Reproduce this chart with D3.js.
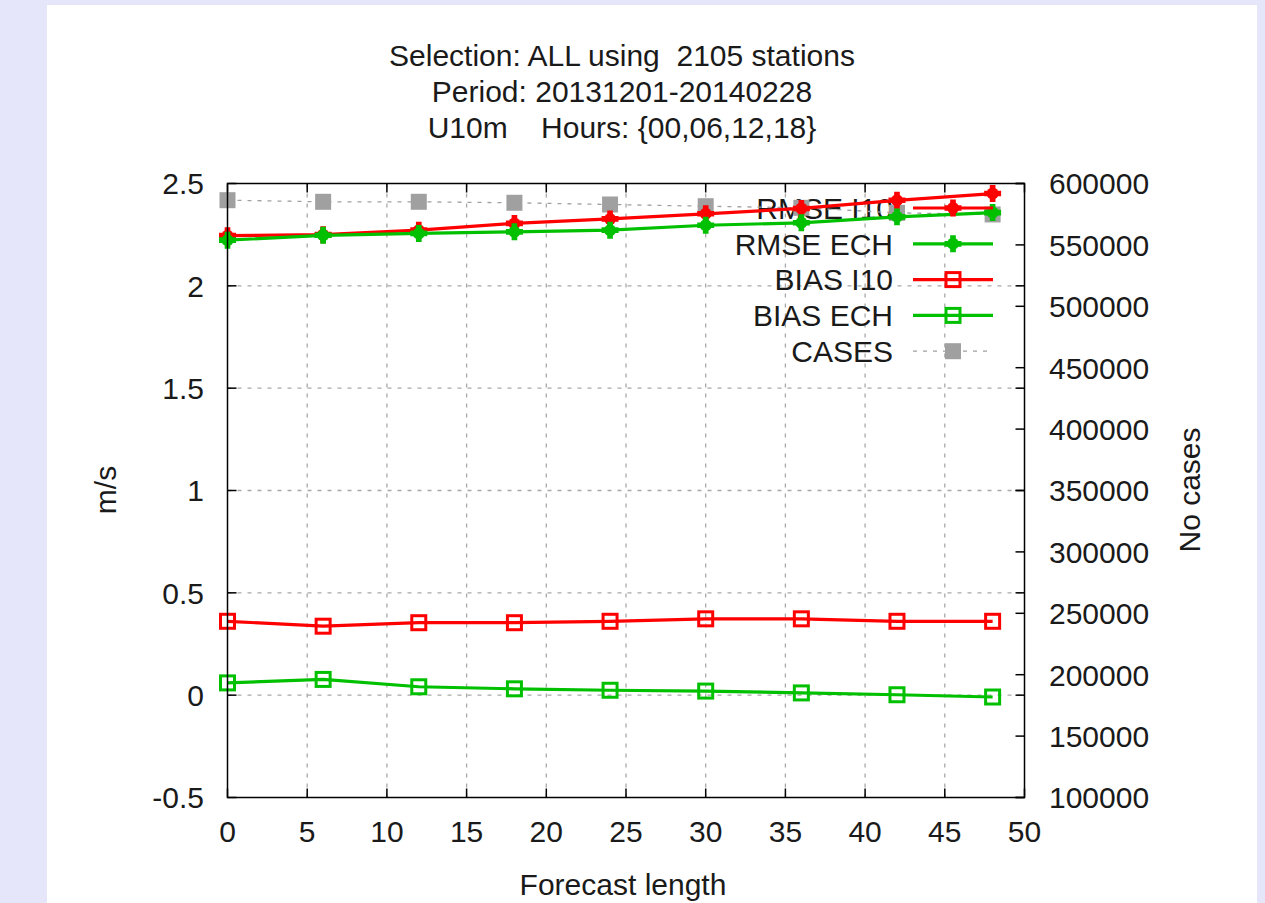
<!DOCTYPE html>
<html>
<head>
<meta charset="utf-8">
<script src="https://cdn.jsdelivr.net/npm/d3@7"></script>
<style>
  html, body { margin: 0; padding: 0; background: #e6e6fa; }
  svg { display: block; }
  text { font-family: "Liberation Sans", Arial, sans-serif; fill: #1a1a1a; }
</style>
</head>
<body>
<svg id="chart" width="1265" height="903"></svg>
<script>
// Forecast lengths (hours)
const hours = [0, 6, 12, 18, 24, 30, 36, 42, 48];

// Scores in m/s
const rmseI10 = [2.245, 2.25, 2.272, 2.305, 2.327, 2.352, 2.378, 2.418, 2.451];
const rmseECH = [2.223, 2.247, 2.256, 2.264, 2.272, 2.296, 2.308, 2.337, 2.358];
const biasI10 = [0.361, 0.337, 0.354, 0.354, 0.361, 0.373, 0.373, 0.361, 0.361];
const biasECH = [0.060, 0.077, 0.041, 0.031, 0.024, 0.020, 0.011, 0.002, -0.009];

// Number of cases (right axis)
const cases = [586400, 585100, 585100, 584300, 582900, 581500, 580200, 576100, 574800];

// Axis ticks
const xTicks = [0, 5, 10, 15, 20, 25, 30, 35, 40, 45, 50];
const yTicks = [-0.5, 0, 0.5, 1, 1.5, 2, 2.5];
const y2Ticks = [100000, 150000, 200000, 250000, 300000, 350000, 400000, 450000, 500000, 550000, 600000];

const titleLines = ["Selection: ALL using  2105 stations", "Period: 20131201-20140228", "U10m    Hours: {00,06,12,18}"];

const svg = d3.select("#chart");
const W = 1265, H = 903;
const FS = 30;

// white page panel
svg.append("rect").attr("x", 47).attr("y", 5).attr("width", 1210).attr("height", H - 5).attr("fill", "#ffffff");

const L = 227.5, R = 1024.5, T = 183.5, B = 797.5;

const x = d3.scaleLinear().domain([0, 50]).range([L, R]);
const y = d3.scaleLinear().domain([-0.5, 2.5]).range([B, T]);
const y2 = d3.scaleLinear().domain([100000, 600000]).range([B, T]);

// grid
const grid = svg.append("g").attr("stroke", "#a8a8a8").attr("stroke-width", 1.3).attr("stroke-dasharray", "4,6");
grid.selectAll("line.gx").data(xTicks.filter(d => d > 0 && d < 50)).join("line")
  .attr("x1", d => x(d)).attr("x2", d => x(d)).attr("y1", T).attr("y2", B);
grid.selectAll("line.gy").data(yTicks.filter(d => d > -0.5 && d < 2.5)).join("line")
  .attr("x1", L).attr("x2", R).attr("y1", d => y(d)).attr("y2", d => y(d));

// titles
svg.append("g").selectAll("text").data(titleLines).join("text")
  .attr("x", 622).attr("y", (d, i) => 55 + i * 36).attr("dy", "0.36em")
  .attr("text-anchor", "middle").attr("font-size", FS)
  .style("white-space", "pre").text(d => d);

// legend entries
const legend = [
  { name: "RMSE I10", color: "#ff0000", marker: "star", dash: null },
  { name: "RMSE ECH", color: "#00c000", marker: "star", dash: null },
  { name: "BIAS I10", color: "#ff0000", marker: "square", dash: null },
  { name: "BIAS ECH", color: "#00c000", marker: "square", dash: null },
  { name: "CASES", color: "#a0a0a0", marker: "filled", dash: "4,6" }
];

function drawMarker(g, type, color, cx, cy) {
  if (type === "star") {
    g.append("path").attr("d", d3.symbol(d3.symbolCross, 160)())
      .attr("transform", `translate(${cx},${cy})`).attr("fill", color);
    g.append("circle").attr("cx", cx).attr("cy", cy).attr("r", 6).attr("fill", color);
  } else if (type === "square") {
    g.append("rect").attr("x", cx - 7).attr("y", cy - 7).attr("width", 14).attr("height", 14)
      .attr("fill", "none").attr("stroke", color).attr("stroke-width", 3);
  } else {
    g.append("rect").attr("x", cx - 8).attr("y", cy - 8).attr("width", 16).attr("height", 16)
      .attr("fill", color);
  }
}

// legend labels (beneath the data)
const lgText = svg.append("g");
legend.forEach((d, i) => {
  const cy = 208 + i * 35.8;
  lgText.append("text").attr("x", 893).attr("y", cy).attr("dy", "0.36em").attr("text-anchor", "end")
    .attr("font-size", FS).text(d.name);
});

// data series
const series = [
  { vals: rmseI10, color: "#ff0000", marker: "star", scale: y },
  { vals: rmseECH, color: "#00c000", marker: "star", scale: y },
  { vals: biasI10, color: "#ff0000", marker: "square", scale: y },
  { vals: biasECH, color: "#00c000", marker: "square", scale: y }
];

// case counts
const casesG = svg.append("g");
casesG.append("path").datum(cases)
  .attr("d", d3.line().x((d, i) => x(hours[i])).y(d => y2(d)))
  .attr("fill", "none").attr("stroke", "#a0a0a0").attr("stroke-width", 1.3).attr("stroke-dasharray", "4,6");
cases.forEach((d, i) => drawMarker(casesG, "filled", "#a0a0a0", x(hours[i]), y2(d)));

series.forEach(s => {
  const g = svg.append("g");
  g.append("path").datum(s.vals)
    .attr("d", d3.line().x((d, i) => x(hours[i])).y(d => s.scale(d)))
    .attr("fill", "none").attr("stroke", s.color).attr("stroke-width", 3.2);
  s.vals.forEach((d, i) => drawMarker(g, s.marker, s.color, x(hours[i]), s.scale(d)));
});

// legend samples
const lg = svg.append("g");
legend.forEach((d, i) => {
  const cy = 208 + i * 35.8;
  lg.append("line").attr("x1", 913).attr("x2", 993).attr("y1", cy).attr("y2", cy)
    .attr("stroke", d.color).attr("stroke-width", d.dash ? 1.3 : 3.2)
    .attr("stroke-dasharray", d.dash);
  drawMarker(lg, d.marker, d.color, 953, cy);
});

// ticks (inward)
const tk = svg.append("g").attr("stroke", "#000").attr("stroke-width", 1.5);
xTicks.forEach(d => {
  tk.append("line").attr("x1", x(d)).attr("x2", x(d)).attr("y1", B).attr("y2", B - 9);
  tk.append("line").attr("x1", x(d)).attr("x2", x(d)).attr("y1", T).attr("y2", T + 9);
});
yTicks.forEach(d => {
  tk.append("line").attr("x1", L).attr("x2", L + 9).attr("y1", y(d)).attr("y2", y(d));
  tk.append("line").attr("x1", R).attr("x2", R - 9).attr("y1", y(d)).attr("y2", y(d));
});
y2Ticks.forEach(d => {
  tk.append("line").attr("x1", R).attr("x2", R - 9).attr("y1", y2(d)).attr("y2", y2(d));
});

// frame
svg.append("rect").attr("x", L).attr("y", T).attr("width", R - L).attr("height", B - T)
  .attr("fill", "none").attr("stroke", "#000").attr("stroke-width", 1.5);

// tick labels
svg.append("g").selectAll("text").data(xTicks).join("text")
  .attr("x", d => x(d)).attr("y", 831).attr("dy", "0.36em").attr("text-anchor", "middle")
  .attr("font-size", FS).text(d => d);
svg.append("g").selectAll("text").data(yTicks).join("text")
  .attr("x", 204).attr("y", d => y(d)).attr("dy", "0.36em").attr("text-anchor", "end")
  .attr("font-size", FS).text(d => d);
svg.append("g").selectAll("text").data(y2Ticks).join("text")
  .attr("x", 1049).attr("y", d => y2(d)).attr("dy", "0.36em").attr("text-anchor", "start")
  .attr("font-size", FS).text(d => d);

// axis titles
svg.append("text").attr("x", 623).attr("y", 884).attr("dy", "0.36em").attr("text-anchor", "middle")
  .attr("font-size", FS).text("Forecast length");
svg.append("text").attr("transform", "translate(105,490) rotate(-90)").attr("dy", "0.36em")
  .attr("text-anchor", "middle").attr("font-size", FS).text("m/s");
svg.append("text").attr("transform", "translate(1189,490) rotate(-90)").attr("dy", "0.36em")
  .attr("text-anchor", "middle").attr("font-size", FS).text("No cases");
</script>
</body>
</html>
